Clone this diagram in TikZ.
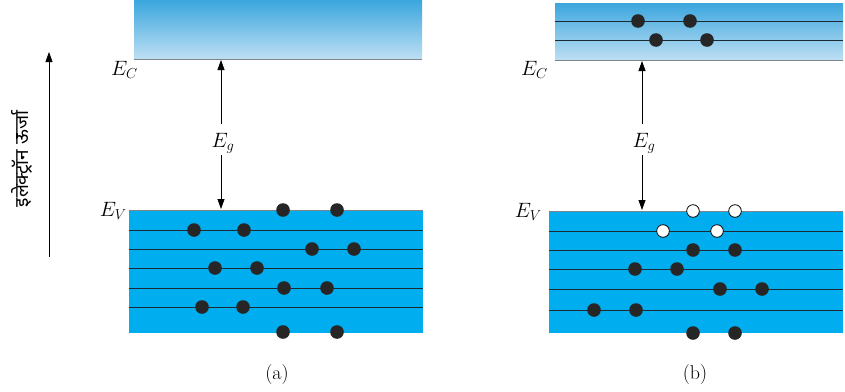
\documentclass[tikz,border=0pt]{standalone}
\usepackage{fontspec}
\newfontfamily\hindifont[Script=Devanagari]{Noto Sans}
\usetikzlibrary{arrows.meta}
\usepackage{xcolor}
\definecolor{vband}{HTML}{00AEEF}
\definecolor{ctop}{HTML}{3BA6DE}
\definecolor{cbot}{HTML}{BEDFF3}
\definecolor{bandedge}{HTML}{7A858C}
\definecolor{level}{HTML}{1C2B33}
\tikzset{
  elec/.style={fill=black!85},
  hole/.style={fill=white, draw=black, thick},
  lbl/.style={font=\fontsize{21}{24}\selectfont, inner sep=1},
}

\begin{document}
\begin{tikzpicture}[x=1pt, y=-1pt, >={Triangle[length=10pt,width=7pt]}]
\useasboundingbox (0,0) rectangle (845,391);
% energy axis
\coordinate (axb) at (49,257);
\coordinate (axt) at (49,52);
\draw[thick, ->] (axb) -- (axt);
\node[rotate=90, font=\hindifont\fontsize{19}{22}\selectfont] (energy) at (22,159) {इलेक्ट्रॉन ऊर्जा};

% (a)
\shade[top color=ctop, bottom color=cbot] (134,0) rectangle (422,59);
\draw[bandedge, thick] (134,59) -- (422,59);
\fill[vband] (129,210) rectangle (423,333);
\draw[bandedge, thick] (129,210) -- (423,210);
\foreach \y in {230,249,268,288,307}
  \draw[level, thick] (129,\y) -- (423,\y);
\foreach \x/\y in {283/210,337/210,194/230,244/230,312/249,354/249,215/268,257/268,284/288,327/288,202/307,243/307,283/332,337/332}
  \fill[elec] (\x,\y) circle (6.8);
\node[lbl, anchor=north east] (eca) at (139,60) {$E_C$};
\node[lbl, anchor=east] (eva) at (128,211) {$E_V$};
\node[lbl] (ega) at (223,143) {$E_g$};
\coordinate (ca) at (221,60);
\coordinate (va) at (221,209);
\draw[thick, ->] ([xshift=-2pt, yshift=8pt]ega.north) -- (ca);
\draw[thick, ->] ([xshift=-2pt, yshift=-1pt]ega.south) -- (va);
\node[font=\fontsize{20}{24}\selectfont] (a) at (277,375) {(a)};

% (b)
\shade[top color=ctop, bottom color=cbot] (555,3) rectangle (843,60);
\draw[bandedge, thick] (555,60) -- (843,60);
\foreach \y in {21,40}
  \draw[level, thick] (555,\y) -- (843,\y);
\foreach \x/\y in {638/21,690/21,656/40,707/40}
  \fill[elec] (\x,\y) circle (6.8);
\fill[vband] (549,211) rectangle (843,333);
\draw[bandedge, thick] (549,211) -- (843,211);
\foreach \y in {231,250,269,289,310}
  \draw[level, thick] (549,\y) -- (843,\y);
\foreach \x/\y in {693/250,735/250,635/269,677/269,720/289,762/289,594/310,636/310,693/333,735/333}
  \fill[elec] (\x,\y) circle (6.8);
\foreach \x/\y in {693/211,735/211,663/231,717/231}
  \draw[hole] (\x,\y) circle (6.3);
\node[lbl, anchor=north east] (ecb) at (549,60) {$E_C$};
\node[lbl, anchor=east] (evb) at (543,212) {$E_V$};
\node[lbl] (egb) at (644,143) {$E_g$};
\coordinate (cb) at (642,61);
\coordinate (vb) at (642,210);
\draw[thick, ->] ([xshift=-2pt, yshift=8pt]egb.north) -- (cb);
\draw[thick, ->] ([xshift=-2pt, yshift=-1pt]egb.south) -- (vb);
\node[font=\fontsize{20}{24}\selectfont] (b) at (695,375) {(b)};
\end{tikzpicture}
\end{document}
